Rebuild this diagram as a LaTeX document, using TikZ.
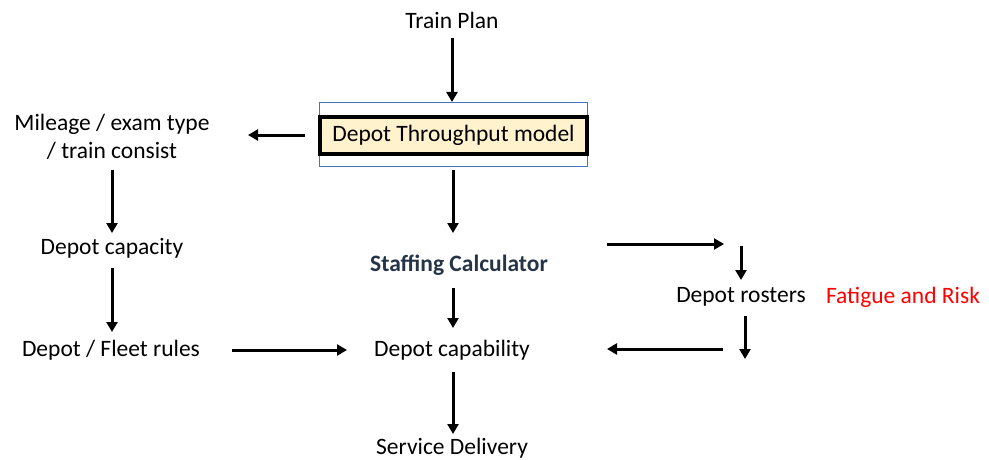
\documentclass[tikz,border=0pt]{standalone}
\usepackage{fontspec}
\setmainfont{Carlito}
\usetikzlibrary{arrows.meta}
\definecolor{modelfill}{RGB}{255,242,204}
\definecolor{framecol}{RGB}{68,114,196}
\definecolor{calccol}{RGB}{38,52,72}
\definecolor{riskcol}{RGB}{255,0,0}
\tikzset{
  lbl/.style={font=\fontsize{23.5}{28}\selectfont, inner sep=0pt, align=center},
  arr/.style={line width=3pt, -{Triangle[length=10pt,width=11pt]}},
}
\begin{document}
\begin{tikzpicture}[x=1pt,y=-1pt]
\useasboundingbox (0,0) rectangle (989,460);
% outer frame around the model box
\draw[framecol, line width=1pt] (319,103) rectangle (587,166);
\node[lbl, draw=black, line width=3.2pt, fill=modelfill, minimum width=267pt, minimum height=37pt] (model) at (453.5,135.5) {Depot Throughput model};

\node[lbl] (plan) at (452,20) {Train Plan};
\node[lbl] (mileage) at (112,137) {Mileage / exam type\\/ train consist};
\node[lbl] (capacity) at (112,248) {Depot capacity};
\node[lbl] (rules) at (111,350) {Depot / Fleet rules};
\node[lbl, font=\fontsize{23.5}{28}\selectfont\bfseries, text=calccol] (calc) at (459,265) {Staffing Calculator};
\node[lbl] (capability) at (452,350) {Depot capability};
\node[lbl] (service) at (452,448) {Service Delivery};
\node[lbl] (rosters) at (741,297) {Depot rosters};
\node[lbl, text=riskcol] (risk) at (903,297) {Fatigue and Risk};

% connector ends
\coordinate (a1) at (452,38);  \coordinate (b1) at (452,102);
\coordinate (a2) at (305,135); \coordinate (b2) at (248,135);
\coordinate (a3) at (112,170); \coordinate (b3) at (112,233);
\coordinate (a4) at (112,268); \coordinate (b4) at (112,332);
\coordinate (a5) at (232,350); \coordinate (b5) at (347,350);
\coordinate (a6) at (453,170); \coordinate (b6) at (453,233);
\coordinate (a7) at (453,288); \coordinate (b7) at (453,328);
\coordinate (a8) at (453,372); \coordinate (b8) at (453,434);
\coordinate (a9) at (607,244); \coordinate (b9) at (724,244);
\coordinate (a10) at (741,246); \coordinate (b10) at (741,280);
\coordinate (a11) at (745,316); \coordinate (b11) at (745,359);
\coordinate (a12) at (723,349); \coordinate (b12) at (607,349);

\draw[arr] (a1) -- (b1);
\draw[arr] (a2) -- (b2);
\draw[arr] (a3) -- (b3);
\draw[arr] (a4) -- (b4);
\draw[arr] (a5) -- (b5);
\draw[arr] (a6) -- (b6);
\draw[arr] (a7) -- (b7);
\draw[arr] (a8) -- (b8);
\draw[arr] (a9) -- (b9);
\draw[arr] (a10) -- (b10);
\draw[arr] (a11) -- (b11);
\draw[arr] (a12) -- (b12);
\end{tikzpicture}
\end{document}
